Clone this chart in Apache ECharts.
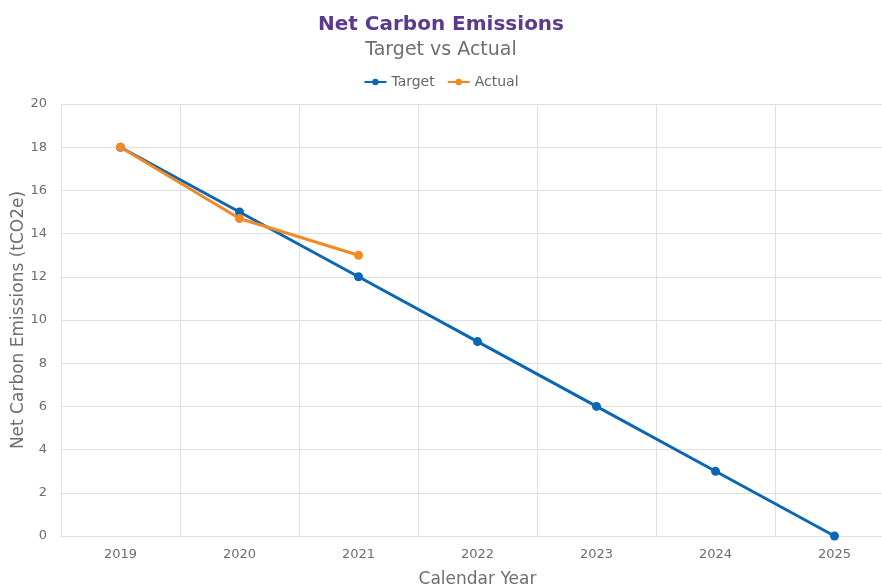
<!DOCTYPE html>
<html><head><meta charset="utf-8">
<script src="https://cdn.jsdelivr.net/npm/echarts@6/dist/echarts.min.js"></script>
<style>html,body{margin:0;padding:0;background:#fff}#c{width:882px;height:585px}</style>
</head><body><div id="c"></div>
<script>
const categories = ['2019','2020','2021','2022','2023','2024','2025'];
const targetValues = [18, 15, 12, 9, 6, 3, 0];
const actualValues = [18, 14.7, 13];
const yTicks = {min: 0, max: 20, interval: 2};
const FONT = 'DejaVu Sans';
const chart = echarts.init(document.getElementById('c'));
chart.setOption({
  animation: false,
  textStyle: {fontFamily: FONT},
  title: {
    text: 'Net Carbon Emissions', subtext: 'Target vs Actual', left: 'center', top: 10,
    textStyle: {fontFamily: FONT, fontSize: 20, fontWeight: 'bold', color: '#5b3a8f'},
    subtextStyle: {fontFamily: FONT, fontSize: 19, color: '#6e6e6e'}, itemGap: 6
  },
  legend: {
    top: 70, left: 'center', itemWidth: 22, itemHeight: 8, itemGap: 12,
    textStyle: {fontFamily: FONT, fontSize: 14, color: '#666'},
    data: ['Target', 'Actual']
  },
  grid: {left: 61, right: -12, top: 104, bottom: 49, outerBoundsMode: 'none', containLabel: false},
  xAxis: {
    type: 'category', data: categories, boundaryGap: true,
    name: 'Calendar Year', nameLocation: 'middle', nameGap: 35,
    nameTextStyle: {fontFamily: FONT, fontSize: 17, color: '#6e6e6e'},
    axisLine: {show: true, lineStyle: {color: '#e0e0e0'}},
    axisTick: {show: false},
    axisLabel: {fontFamily: FONT, fontSize: 13, color: '#6e6e6e', margin: 12},
    splitLine: {show: true, lineStyle: {color: '#e0e0e0'}}
  },
  yAxis: {
    type: 'value', min: yTicks.min, max: yTicks.max, interval: yTicks.interval,
    name: 'Net Carbon Emissions (tCO2e)', nameLocation: 'middle', nameGap: 34, nameMoveOverlap: false,
    nameTextStyle: {fontFamily: FONT, fontSize: 17, color: '#6e6e6e'},
    axisLine: {show: false}, axisTick: {show: false},
    axisLabel: {fontFamily: FONT, fontSize: 13, color: '#6e6e6e', margin: 14},
    splitLine: {show: true, lineStyle: {color: '#e0e0e0'}}
  },
  series: [
    {name: 'Target', type: 'line', data: targetValues, symbol: 'circle', symbolSize: 9,
     itemStyle: {color: '#0b67b5'}, lineStyle: {width: 3, color: '#0b67b5'}},
    {name: 'Actual', type: 'line', data: actualValues, symbol: 'circle', symbolSize: 9,
     itemStyle: {color: '#f28a24'}, lineStyle: {width: 3, color: '#f28a24'}}
  ]
});
</script></body></html>
